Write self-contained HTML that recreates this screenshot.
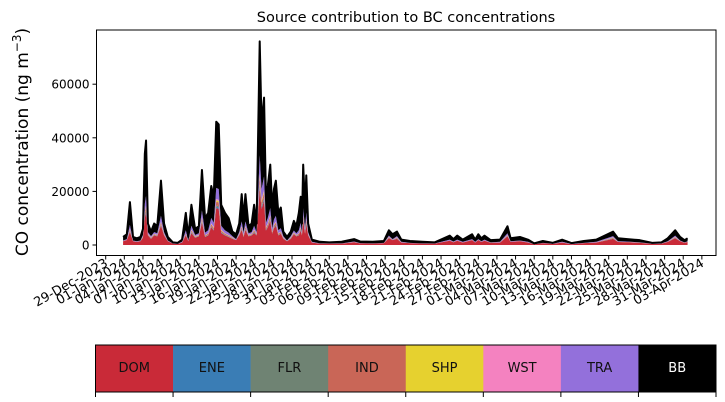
<!DOCTYPE html>
<html><head><meta charset="utf-8"><style>
body{margin:0;background:#fff;}
svg{display:block;font-family:"DejaVu Sans","Liberation Sans",sans-serif;}
</style></head><body>
<svg id="chart" width="725" height="402" viewBox="0 0 725 402" xmlns="http://www.w3.org/2000/svg">
<text x="406" y="22" font-size="14.5" text-anchor="middle">Source contribution to BC concentrations</text>
<text transform="translate(28,142) rotate(-90)" font-size="17" text-anchor="middle">CO concentration (ng m<tspan dy="-7" font-size="12">−3</tspan><tspan dy="7">)</tspan></text>
<g id="plot"></g>
<g id="legend"></g>
</svg>
<script>
const days=[2.8,3.4,3.9,4.4,5.0,5.6,6.0,6.3,6.5,6.8,
7.3,7.8,8.3,8.9,9.4,10.0,10.8,11.6,12.3,12.9,
13.3,13.8,14.4,15.0,15.5,16.0,16.5,17.0,17.4,17.8,
18.2,18.6,19.2,19.8,20.4,21.0,21.5,21.9,22.2,22.5,
23.0,23.5,23.9,24.3,24.8,25.1,25.5,25.8,26.1,26.5,
26.8,27.1,27.4,27.8,28.2,28.6,29.2,29.8,30.3,30.7,
31.1,31.4,31.6,31.8,32.1,32.3,32.6,33.2,34.5,36,
38,40,41,43,44.8,45.6,46.2,46.9,47.6,49,
51,53,55.4,56.0,56.6,57.5,59,59.5,60,60.5,
61,62,63.5,64.7,65.2,66.7,68,69,70.4,72,
73.5,75,77,79,81.7,82.5,84,86,88,89.5,
90.5,91.7,92.5,93.2,93.7];
// values in thousand ng m-3
const dom=[1.4,1.8,4.8,1.4,1.1,1.4,2.7,10.2,12,3.6,
2.3,3.6,3.2,7.2,3.6,1.4,.5,.4,.9,3.6,
1.4,4.5,2.7,3.2,8.4,3,3.6,6.6,5.4,13.8,
13.5,4.5,3.6,3,2.3,1.8,3.6,5.7,3,5.7,
3.2,3.6,4.5,3.6,21,13.5,16.5,5.4,6.6,9,
4.2,6.3,7.2,3.6,4.2,2.3,1.4,2.3,4,3.2,
3.6,5.4,3.6,9,4.2,7.8,3.6,.9,.5,.5,
.5,1,.6,.5,.7,2.5,1.8,2.3,.9,.7,
.5,.5,1.6,1,1.6,.9,1.8,.9,1.8,1.1,
1.6,.8,.9,3.2,1.1,1.4,.9,.3,.7,.4,
.9,.3,.7,.9,2.3,1.1,1,.8,.4,.5,
1.1,2.5,1.4,.8,1.1];
const ene=[0,0,.2,0,0,0,.1,.3,.4,.1,
.1,.1,.1,.2,.1,0,0,0,0,.1,
0,.2,.1,.1,.3,.1,.1,.2,.2,.5,
.5,.2,.1,.1,.1,0,.1,.2,.1,.2,
.1,.1,.2,.1,.8,.5,.6,.2,.2,.3,
.1,.2,.2,.1,.1,.1,0,.1,.1,.1,
.1,.2,.1,.3,.1,.3,.1,0,0,0,
0,0,0,0,0,.1,0,.1,0,0,
0,0,0,0,0,0,0,0,0,0,
0,0,0,.1,0,0,0,0,0,0,
0,0,0,0,.1,0,0,0,0,0,
0,.1,0,0,0];
const flr=[0,0,.2,0,0,0,.1,.3,.4,.1,
.1,.1,.1,.2,.1,0,0,0,0,.1,
0,.2,.1,.1,.3,.1,.1,.2,.2,.5,
.5,.2,.1,.1,.1,0,.1,.2,.1,.2,
.1,.1,.2,.1,.8,.5,.6,.2,.2,.3,
.1,.2,.2,.1,.1,.1,0,.1,.1,.1,
.1,.2,.1,.3,.1,.3,.1,0,0,0,
0,0,0,0,0,.1,0,.1,0,0,
0,0,0,0,0,0,0,0,0,0,
0,0,0,.1,0,0,0,0,0,0,
0,0,0,0,.1,0,0,0,0,0,
0,.1,0,0,0];
const ind=[.1,.1,.5,.1,.1,.1,.2,1,1.2,.2,
.2,.2,.2,.7,.2,.1,0,0,.1,.4,
.1,.5,.2,.2,.8,.3,.4,.7,.5,1.4,
1.4,.5,.4,.3,.2,.1,.2,.6,.3,.6,
.2,.2,.5,.2,2.3,1.4,1.7,.5,.7,.9,
.4,.6,.7,.4,.4,.2,.1,.2,.3,.2,
.4,.5,.2,.9,.4,.8,.2,.1,0,0,
0,.1,0,0,0,.2,.1,.2,.1,0,
0,0,.1,.1,.1,.1,.1,.1,.1,.1,
.1,.1,.1,.2,.1,.1,.1,0,0,0,
.1,0,0,.1,.2,.1,.1,.1,0,0,
.1,.2,.1,.1,.1];
const shp=[0,0,.2,0,0,0,.1,.3,.4,.1,
.1,.1,.1,.2,.1,0,0,0,0,.1,
0,.2,.1,.1,.3,.1,.1,.2,.2,.5,
.5,.2,.1,.1,.1,0,.1,.2,.1,.2,
.1,.1,.2,.1,.8,.5,.6,.2,.2,.3,
.1,.2,.2,.1,.1,.1,0,.1,.1,.1,
.1,.2,.1,.3,.1,.3,.1,0,0,0,
0,0,0,0,0,.1,0,.1,0,0,
0,0,0,0,0,0,0,0,0,0,
0,0,0,.1,0,0,0,0,0,0,
0,0,0,0,.1,0,0,0,0,0,
0,.1,0,0,0];
const wst=[0,0,.2,0,0,0,.1,.3,.4,.1,
.1,.1,.1,.2,.1,0,0,0,0,.1,
0,.2,.1,.1,.3,.1,.1,.2,.2,.5,
.5,.2,.1,.1,.1,0,.1,.2,.1,.2,
.1,.1,.2,.1,.8,.5,.6,.2,.2,.3,
.1,.2,.2,.1,.1,.1,0,.1,.1,.1,
.1,.2,.1,.3,.1,.3,.1,0,0,0,
0,0,0,0,0,.1,0,.1,0,0,
0,0,0,0,0,0,0,0,0,0,
0,0,0,.1,0,0,0,0,0,0,
0,0,0,0,.1,0,0,0,0,0,
0,.1,0,0,0];
const tra=[.2,.3,1.4,.2,.2,.2,.5,3.1,3.6,.6,
.4,.6,.6,2.2,.6,.2,.1,.1,.2,1.1,
.2,1.4,.5,.6,2.5,.9,1.1,2,1.6,4.1,
4,1.4,1.1,.9,.4,.3,.6,1.7,.9,1.7,
.6,.6,1.4,.6,7,4,5,1.6,2,2.7,
1.3,1.9,2.2,1.1,1.3,.4,.2,.4,.7,.6,
1.1,1.6,.6,2.7,1.3,2.3,.6,.2,.1,.1,
.1,.2,.1,.1,.1,.4,.3,.4,.2,.1,
.1,.1,.3,.2,.3,.2,.3,.2,.3,.2,
.3,.1,.2,.6,.2,.2,.2,0,.1,.1,
.2,.1,.1,.2,.4,.2,.2,.1,.1,.1,
.2,.4,.2,.1,.2];
const bb=[1.3,1.8,8.5,1.3,1.1,1.3,2.2,18.5,20.6,3.2,
1.7,3.2,2.6,13.1,3.2,1.3,.4,.3,.8,6.5,
1.3,7.8,2.2,2.6,15.1,5.4,6.5,11.9,9.7,24.7,
24.1,7.8,6.5,5.4,1.7,1.8,3.2,10.2,5.4,10.2,
2.6,3.2,7.8,3.2,42.5,24.1,29.4,9.7,11.9,16.2,
7.7,11.4,13.1,6.5,7.7,1.7,1.3,1.7,3.6,2.6,
6.5,9.7,3.2,16.2,7.7,13.9,3.2,.8,.6,.4,
.6,.9,.6,.6,.7,2.0,1.8,1.7,.8,.7,
.6,.4,1.5,.9,1.5,.8,1.8,.8,1.8,1.1,
1.5,.8,.8,2.6,1.1,1.3,.8,.3,.7,.3,
.8,.3,.7,.8,1.7,1.1,.9,.8,.3,.4,
1.1,2.0,1.3,.8,1.1];
const seriesNames=["DOM","ENE","FLR","IND","SHP","WST","TRA","BB"];
const seriesColors=["#c92a38","#3a7db5","#6f8373","#c96657","#e6d12f","#f482c0","#9370db","#000000"];
const yTicks=[0,20000,40000,60000];
const xTickLabels=["29-Dec-2023","01-Jan-2024","04-Jan-2024","07-Jan-2024","10-Jan-2024","13-Jan-2024","16-Jan-2024","19-Jan-2024","22-Jan-2024","25-Jan-2024","28-Jan-2024","31-Jan-2024","03-Feb-2024","06-Feb-2024","09-Feb-2024","12-Feb-2024","15-Feb-2024","18-Feb-2024","21-Feb-2024","24-Feb-2024","27-Feb-2024","01-Mar-2024","04-Mar-2024","07-Mar-2024","10-Mar-2024","13-Mar-2024","16-Mar-2024","19-Mar-2024","22-Mar-2024","25-Mar-2024","28-Mar-2024","31-Mar-2024","03-Apr-2024"];

const NS="http://www.w3.org/2000/svg";
const X0=96.5,X1=716,Y0=30,Y1=255.5;
const xScale=d=>105.7+d*6.21;
const yScale=v=>245-v*(53.6/20000);
function mk(tag,attrs,parent){const e=document.createElementNS(NS,tag);for(const k in attrs)e.setAttribute(k,attrs[k]);parent.appendChild(e);return e;}
const plot=document.getElementById('plot');
const layers=[dom,ene,flr,ind,shp,wst,tra,bb];
let base=days.map(()=>0);
layers.forEach((arr,li)=>{
  const top=base.map((b,i)=>b+arr[i]*1000);
  let d="M"+days.map((dd,i)=>xScale(dd).toFixed(2)+","+yScale(top[i]).toFixed(2)).join("L");
  for(let i=days.length-1;i>=0;i--) d+="L"+xScale(days[i]).toFixed(2)+","+yScale(base[i]).toFixed(2);
  d+="Z";
  const p=mk('path',{d:d,fill:seriesColors[li],stroke:'none'},plot);
  
  
  base=top;
});
const line=mk('path',{d:"M"+days.map((dd,i)=>xScale(dd).toFixed(2)+","+yScale(base[i]).toFixed(2)).join("L"),fill:'none',stroke:'#000','stroke-width':2,'stroke-linejoin':'round'},plot);


const frame=mk('rect',{x:X0,y:Y0,width:X1-X0,height:Y1-Y0,fill:'none',stroke:'#000','stroke-width':1},plot);


yTicks.forEach(v=>{
  const y=yScale(v);
  const t=mk('line',{x1:X0-4,x2:X0,y1:y,y2:y,stroke:'#000','stroke-width':1},plot);
  
  
  const l=mk('text',{x:X0-7,y:y+4.5,'font-size':12,'text-anchor':'end'},plot);
  
  
  l.textContent=String(v);
});
xTickLabels.forEach((lab,i)=>{
  const x=xScale(i*3);
  const t=mk('line',{x1:x,x2:x,y1:Y1,y2:Y1+4,stroke:'#000','stroke-width':1},plot);
  
  
  const l=mk('text',{transform:`translate(${x+3},${Y1+10}) rotate(-30)`,'font-size':12.8,'text-anchor':'end'},plot);
  
  
  l.textContent=lab;
});
const leg=document.getElementById('legend');
const LX0=95.5,LX1=716,LY0=345,LY1=392,w=(LX1-LX0)/8;
seriesNames.forEach((n,i)=>{
  const r=mk('rect',{x:LX0+i*w,y:LY0,width:w+0.3,height:LY1-LY0,fill:seriesColors[i]},leg);
  
  
  const t=mk('text',{x:LX0+i*w+w/2,y:372,'font-size':13,'text-anchor':'middle',fill:n==="BB"?'#fff':'#111'},leg);
  
  
  t.textContent=n;
});
for(let i=0;i<=8;i++){
  const tk=mk('line',{x1:LX0+i*w,x2:LX0+i*w,y1:LY1,y2:LY1+5,stroke:'#000','stroke-width':1},leg);
  
  
}
const lf=mk('rect',{x:LX0,y:LY0,width:LX1-LX0,height:LY1-LY0,fill:'none',stroke:'#000','stroke-width':1},leg);


</script>
</body></html>
